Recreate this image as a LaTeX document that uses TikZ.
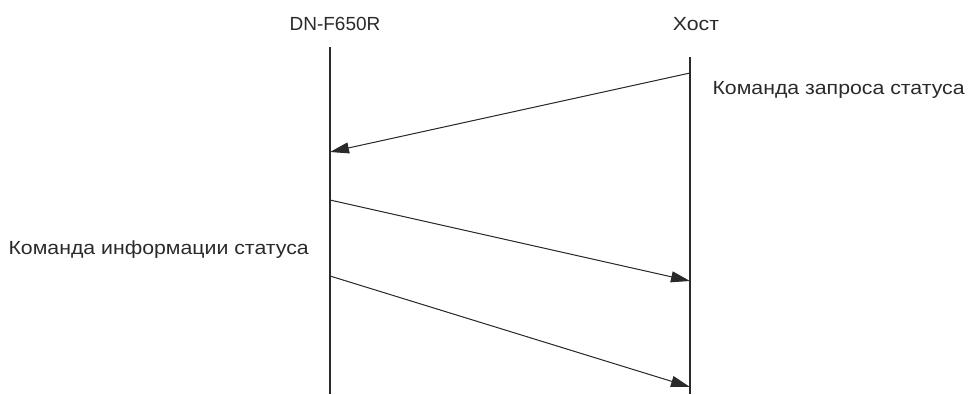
\documentclass[tikz,border=0pt]{standalone}
\usepackage{fontspec}
\setmainfont{Liberation Sans}
\newfontfamily\widesans[FakeStretch=1.12]{Liberation Sans}
\usetikzlibrary{arrows.meta,positioning}
\definecolor{ink}{HTML}{2A2A2A}
\tikzset{
  seq/.style={x=1pt, y=-1pt, line width=1.1pt, draw=ink, every node/.style={font=\fontsize{19}{22}\selectfont, text=ink, inner sep=0pt}},
  life/.style={draw=ink, line width=1.1pt},
  msg/.style={-{Triangle[length=19pt, width=11pt]}, draw=ink, fill=ink, line width=1pt},
  cyr/.style={font=\fontsize{19}{22}\widesans},
  mlab/.style={cyr, anchor=west}
}

\begin{document}
\begin{tikzpicture}[seq]
\useasboundingbox (0,0) rectangle (973,394);
\node (dev) at (335,24) {DN-F650R};
\node[cyr] (host) at (696,24) {Хост};
\coordinate (d0) at (330,47);  \coordinate (d9) at (330,394);
\coordinate (h0) at (690,57);  \coordinate (h9) at (690,394);
\draw[life] (d0) -- (d9);
\draw[life] (h0) -- (h9);
% messages
\coordinate (h1) at (690,73);  \coordinate (d1) at (330,152);
\coordinate (d2) at (330,200); \coordinate (h2) at (690,281);
\coordinate (d3) at (330,276); \coordinate (h3) at (690,387);
\draw[msg] (h1) -- (d1);
\draw[msg] (d2) -- (h2);
\draw[msg] (d3) -- (h3);
\node[mlab] (req) at (712,90) {Команда запроса статуса};
\node[mlab] (info) at (8,250) {Команда информации статуса};
\end{tikzpicture}
\end{document}
